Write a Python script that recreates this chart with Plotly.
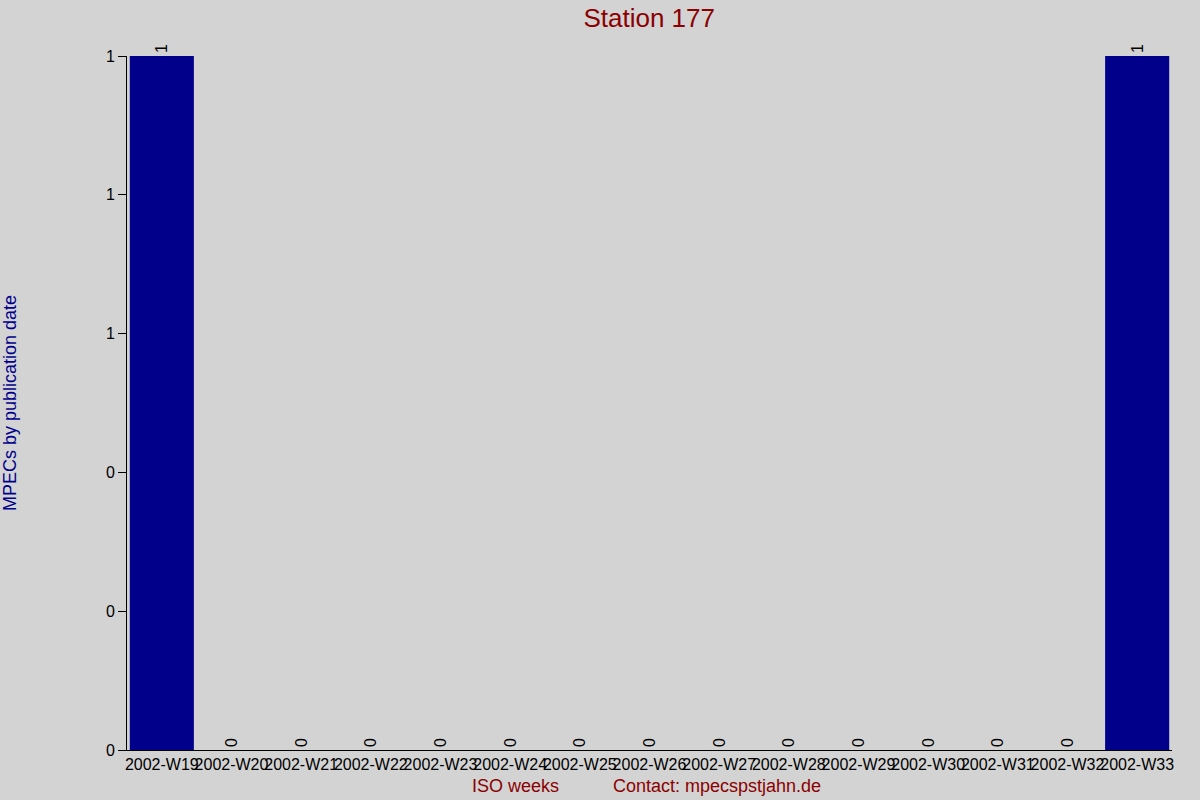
import plotly.graph_objects as go

weeks = [
    "2002-W19", "2002-W20", "2002-W21", "2002-W22", "2002-W23",
    "2002-W24", "2002-W25", "2002-W26", "2002-W27", "2002-W28",
    "2002-W29", "2002-W30", "2002-W31", "2002-W32", "2002-W33",
]
mpecs = [1, 0, 0, 0, 0, 0, 0, 0, 0, 0, 0, 0, 0, 0, 1]
y_ticks = [0, 0.2, 0.4, 0.6, 0.8, 1.0]

BG = "#d3d3d3"
RED = "#8b0000"
BLUE = "#00008b"
FONT = "Liberation Sans, Arial, sans-serif"

fig = go.Figure()
fig.add_trace(
    go.Bar(
        x=weeks,
        y=mpecs,
        marker_color=BLUE,
        marker_line_width=0,
        text=[str(v) for v in mpecs],
        textposition="outside",
        textangle=-90,
        textfont=dict(size=16, color="black", family=FONT),
        cliponaxis=False,
        hoverinfo="x+y",
    )
)

fig.update_layout(
    width=1200,
    height=800,
    paper_bgcolor=BG,
    plot_bgcolor=BG,
    font=dict(family=FONT, size=16, color="black"),
    margin=dict(l=127, r=28, t=56, b=50),
    bargap=0.08,
    showlegend=False,
    title=dict(
        text="Station 177",
        x=0.541,
        xanchor="center",
        y=0.978,
        yanchor="middle",
        font=dict(size=26, color=RED, family=FONT),
    ),
    uniformtext=dict(minsize=8, mode="show"),
)

fig.update_xaxes(
    range=[-0.5, 14.5],
    showgrid=False,
    showline=True,
    linecolor="black",
    linewidth=1,
    ticks="",
    tickfont=dict(size=16, color="black"),
    tickangle=0,
    automargin=False,
)
fig.update_yaxes(
    range=[0, 1],
    tickvals=y_ticks,
    tickformat=".0f",
    showgrid=False,
    zeroline=False,
    showline=True,
    linecolor="black",
    linewidth=1,
    ticks="outside",
    ticklen=8,
    tickcolor="black",
    tickfont=dict(size=16, color="black"),
    title=dict(
        text="MPECs by publication date",
        font=dict(size=18, color=BLUE),
        standoff=88,
    ),
    automargin=False,
)

# bottom captions
for txt, xpos in [("ISO weeks", 0.372), ("Contact: mpecspstjahn.de", 0.565)]:
    fig.add_annotation(
        text=txt,
        xref="paper",
        yref="paper",
        x=xpos,
        y=0,
        yshift=-36,
        xanchor="center",
        yanchor="middle",
        showarrow=False,
        font=dict(size=18, color=RED, family=FONT),
    )

fig.write_html(
    "out.html",
    config={"displayModeBar": False},
    post_script="document.body.style.margin='0';",
)
